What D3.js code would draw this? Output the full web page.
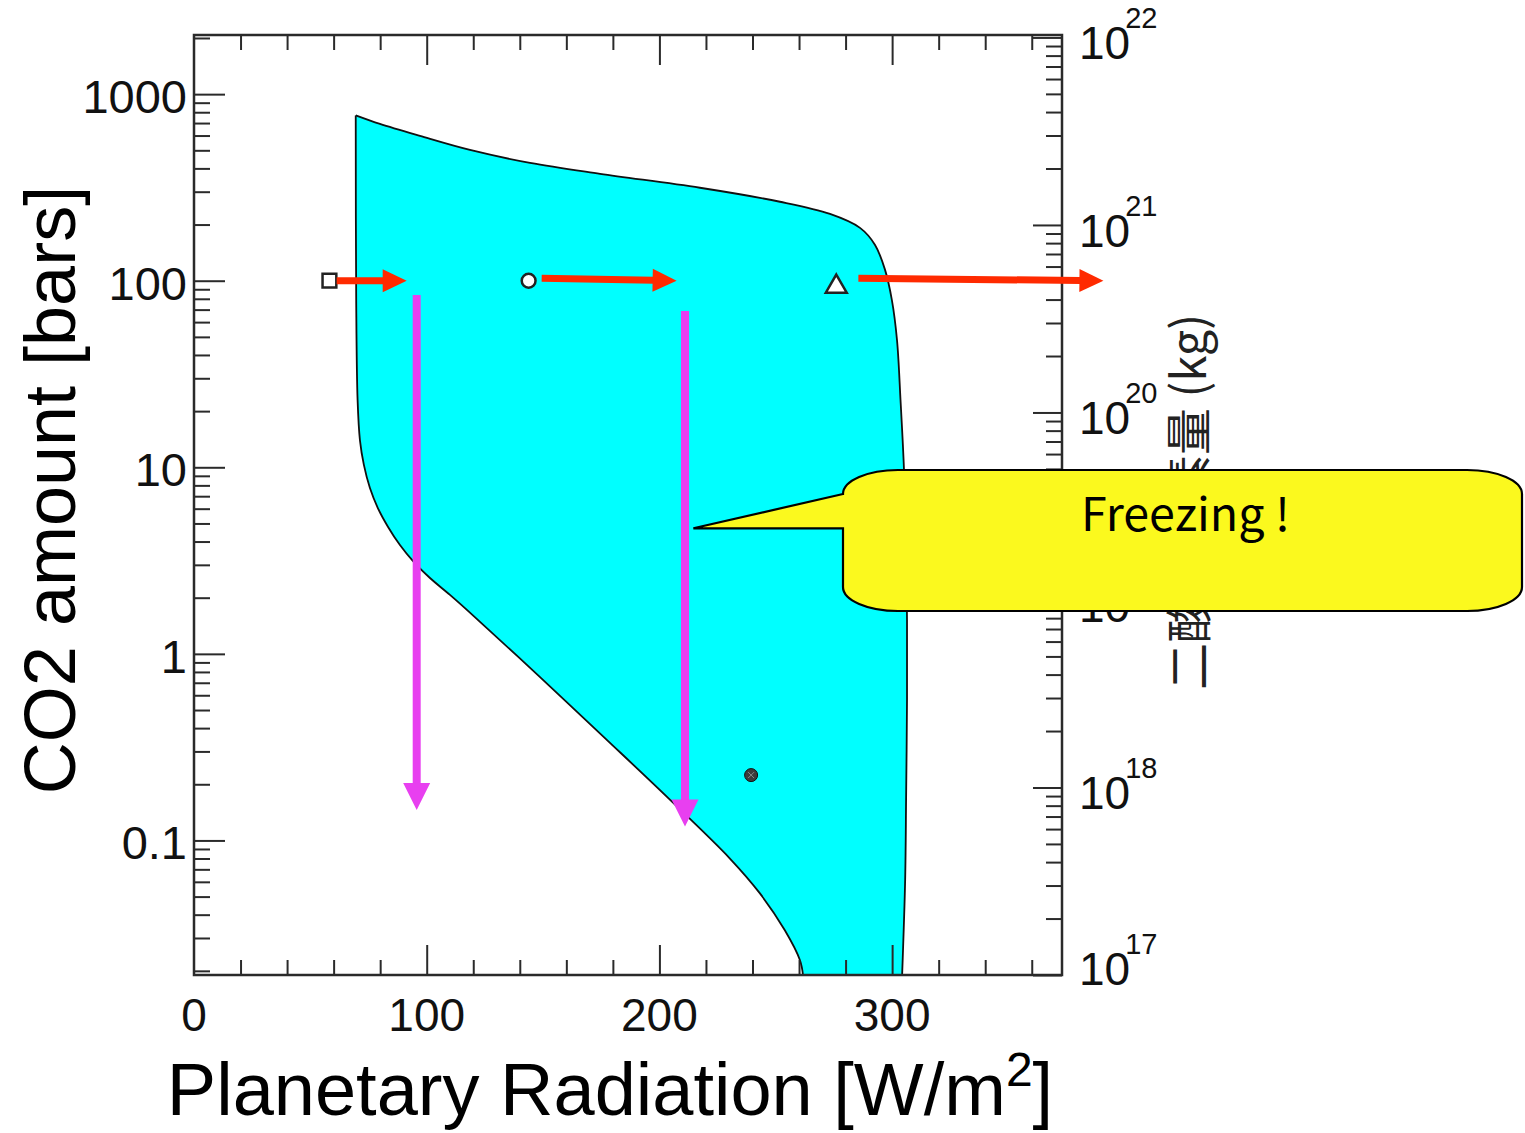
<!DOCTYPE html>
<html><head><meta charset="utf-8">
<script src="https://cdn.jsdelivr.net/npm/d3@7"></script>
<style>body{margin:0;background:#fff}svg{display:block}</style>
</head><body><svg id="c" width="1525" height="1133"></svg>
<script>
// ---------- data ----------
const xTickValues = [0, 100, 200, 300];
const xTickLabels = ["0", "100", "200", "300"];
const yTickValues = [0.1, 1, 10, 100, 1000];
const yTickLabels = ["0.1", "1", "10", "100", "1000"];
const kgExponents = [17, 18, 19, 20, 21, 22];
const xTitle = "Planetary Radiation [W/m";
const xTitleSup = "2";
const xTitleEnd = "]";
const yTitle = "CO2 amount [bars]";
const kgTitle = "二酸化炭素量 (kg)";

// upper / right edge of the cyan region (x in W/m2, y in bars)
const upperEdgeX = [69.5, 79.9, 97.1, 118.6, 144.4, 174.5, 217.4, 251.8, 273.3, 286.2, 292.6, 296.9, 299.9, 302.1, 303.6, 305.1, 306.0, 306.4, 306.4, 306.0, 305.6, 304.3];
const upperEdgeY = [769, 692, 597, 502, 428, 374, 315, 265, 228, 192, 156, 115, 78.7, 48, 23, 9.7, 3.6, 1.52, 0.57, 0.165, 0.0615, 0.019];
// left / lower edge of the cyan region
const lowerEdgeX = [69.5, 69.7, 70.3, 71.3, 73.0, 75.6, 79.0, 83.4, 88.5, 94.5, 101.4, 110.0, 120.8, 148.7, 177.5, 204.6, 230.3, 243.2, 253.9, 260.4, 261.7];
const lowerEdgeY = [769, 78.7, 22.9, 14.0, 10.3, 7.74, 6.05, 4.79, 3.83, 3.10, 2.55, 2.07, 1.57, 0.750, 0.345, 0.165, 0.080, 0.052, 0.033, 0.0228, 0.019];

// planet markers
const markerTypes = ["square", "circle", "triangle", "dot"];
const markerX = [58.2, 143.8, 276, 239.4];
const markerY = [100, 100, 93, 0.224];

// red arrows (horizontal)
const redFromX = [61.3, 149.4, 285.5];
const redFromY = [100, 103, 103];
const redToX = [91.4, 207.4, 390.8];
const redToY = [100, 100, 100];
// magenta arrows (vertical)
const magX = [95.7, 211];
const magFromY = [83.8, 68.8];
const magToY = [0.1455, 0.1186];

const calloutText = "Freezing !";
const calloutTipX = 214.6, calloutTipY = 4.71;

// ---------- layout ----------
const L = 194, R = 1062, T = 35, B = 975;
const svg = d3.select("#c");
const x = d3.scaleLinear().domain([0, 373]).range([L, R]);
const y = d3.scaleLog().domain([0.019, 2075]).range([B, T]);
const yk = d3.scaleLog().domain([1e17, Math.pow(10, 22.013)]).range([B, T]);

const font = "'Liberation Sans', Arial, Helvetica, sans-serif";
const axisColor = "#2a2a2a";

svg.append("defs").append("clipPath").attr("id", "plotclip")
  .append("rect").attr("x", L).attr("y", T).attr("width", R - L).attr("height", B - T);

// ---------- cyan region ----------
const upperPts = upperEdgeX.map((v, i) => [v, upperEdgeY[i]]);
const lowerPts = lowerEdgeX.map((v, i) => [v, lowerEdgeY[i]]);
const lineGen = d3.line().x(d => x(d[0])).y(d => y(d[1])).curve(d3.curveCatmullRom.alpha(0.5));
const upPath = lineGen(upperPts);
const lowRev = lineGen(lowerPts.slice().reverse());
const region = svg.append("g").attr("clip-path", "url(#plotclip)");
region.append("path").attr("d", upPath + "L" + lowRev.slice(1) + "Z")
  .attr("fill", "#00ffff").attr("stroke", "none");
region.append("path").attr("d", upPath).attr("fill", "none").attr("stroke", "#111").attr("stroke-width", 1.8);
region.append("path").attr("d", lineGen(lowerPts)).attr("fill", "none").attr("stroke", "#111").attr("stroke-width", 1.8);

// ---------- axes ----------
function styleAxis(g) {
  g.select(".domain").remove();
  g.selectAll(".tick line").attr("stroke", axisColor).attr("stroke-width", 2);
  g.selectAll(".tick text").remove();
}
const xMinor = d3.range(20, 373, 20).filter(v => v % 100 !== 0);
const xMajor = xTickValues.filter(v => v > 0);
svg.append("g").attr("transform", `translate(0,${B})`).call(d3.axisBottom(x).tickValues(xMinor).tickSize(-15)).call(styleAxis);
svg.append("g").attr("transform", `translate(0,${B})`).call(d3.axisBottom(x).tickValues(xMajor).tickSize(-30)).call(styleAxis);
svg.append("g").attr("transform", `translate(0,${T})`).call(d3.axisTop(x).tickValues(xMinor).tickSize(-15)).call(styleAxis);
svg.append("g").attr("transform", `translate(0,${T})`).call(d3.axisTop(x).tickValues(xMajor).tickSize(-30)).call(styleAxis);

const yMinor = [];
for (let d = -2; d <= 3; d++) for (let m = 2; m <= 9; m++) {
  const v = m * Math.pow(10, d);
  if (v > 0.019 && v < 2075) yMinor.push(v);
}
svg.append("g").attr("transform", `translate(${L},0)`).call(d3.axisLeft(y).tickValues(yMinor).tickSize(-16)).call(styleAxis);
svg.append("g").attr("transform", `translate(${L},0)`).call(d3.axisLeft(y).tickValues(yTickValues).tickSize(-31)).call(styleAxis);

const kgMajor = kgExponents.map(e => Math.pow(10, e));
const kgMinor = [];
for (let e = 17; e <= 21; e++) for (let m = 2; m <= 9; m++) kgMinor.push(m * Math.pow(10, e));
svg.append("g").attr("transform", `translate(${R},0)`).call(d3.axisRight(yk).tickValues(kgMinor).tickSize(-16)).call(styleAxis);
svg.append("g").attr("transform", `translate(${R},0)`).call(d3.axisRight(yk).tickValues(kgMajor).tickSize(-29)).call(styleAxis);

// frame
svg.append("rect").attr("x", L).attr("y", T).attr("width", R - L).attr("height", B - T)
  .attr("fill", "none").attr("stroke", axisColor).attr("stroke-width", 2.5);

// tick labels
svg.append("g").selectAll("text").data(xTickValues).join("text")
  .attr("x", d => x(d)).attr("y", 1031).attr("text-anchor", "middle")
  .attr("font-family", font).attr("font-size", 46).attr("fill", "#111")
  .text((d, i) => xTickLabels[i]);
svg.append("g").selectAll("text").data(yTickValues).join("text")
  .attr("x", 187).attr("y", d => y(d) + 19).attr("text-anchor", "end")
  .attr("font-family", font).attr("font-size", 47).attr("fill", "#111")
  .text((d, i) => yTickLabels[i]);
const kgLab = svg.append("g").selectAll("text").data(kgExponents).join("text")
  .attr("x", 1079).attr("y", d => Math.min(yk(Math.pow(10, d)) + 22, 985))
  .attr("font-family", font).attr("font-size", 46).attr("fill", "#111");
kgLab.append("tspan").text("10");
kgLab.append("tspan").attr("font-size", 29).attr("dx", -5).attr("dy", -31).text(d => d);

// axis titles
svg.append("text").attr("transform", "translate(75,490) rotate(-90)")
  .attr("text-anchor", "middle").attr("font-family", font).attr("font-size", 72).attr("fill", "#000")
  .text(yTitle);
const xt = svg.append("text").attr("x", 610).attr("y", 1115).attr("text-anchor", "middle")
  .attr("font-family", font).attr("font-size", 74).attr("fill", "#000");
xt.append("tspan").text(xTitle);
xt.append("tspan").attr("font-size", 48).attr("dy", -29).text(xTitleSup);
xt.append("tspan").attr("dy", 29).text(xTitleEnd);
svg.append("text").attr("transform", "translate(1206,690) rotate(-90)")
  .attr("text-anchor", "start").attr("font-family", "'Noto Sans CJK JP', sans-serif").attr("font-size", 47).attr("fill", "#222")
  .text(kgTitle);

// ---------- markers ----------
const mg = svg.append("g");
markerTypes.forEach((t, i) => {
  const px = x(markerX[i]), py = y(markerY[i]);
  if (t === "dot") {
    mg.append("circle").attr("cx", px).attr("cy", py).attr("r", 6.5).attr("fill", "#3c3c3c").attr("stroke", "#111").attr("stroke-width", 1);
    mg.append("path").attr("d", `M${px-3},${py-3}L${px+3},${py+3}M${px+3},${py-3}L${px-3},${py+3}`).attr("stroke", "#888").attr("stroke-width", 1);
  } else {
    const sym = t === "square" ? d3.symbolSquare : t === "circle" ? d3.symbolCircle : d3.symbolTriangle;
    const size = t === "square" ? 190 : t === "circle" ? 150 : 190;
    mg.append("path").attr("d", d3.symbol().type(sym).size(size)()).attr("transform", `translate(${px},${py})`)
      .attr("fill", "#fff").attr("stroke", "#222").attr("stroke-width", 2.5);
  }
});

// ---------- arrows ----------
function arrow(g, x1, y1, x2, y2, color, shaftW, headL, headW) {
  const dx = x2 - x1, dy = y2 - y1, len = Math.hypot(dx, dy);
  const ux = dx / len, uy = dy / len, nx = -uy, ny = ux;
  const bx = x2 - ux * headL, by = y2 - uy * headL;
  g.append("line").attr("x1", x1).attr("y1", y1).attr("x2", bx + ux).attr("y2", by + uy)
    .attr("stroke", color).attr("stroke-width", shaftW);
  g.append("path").attr("d", `M${x2},${y2}L${bx + nx * headW / 2},${by + ny * headW / 2}L${bx - nx * headW / 2},${by - ny * headW / 2}Z`)
    .attr("fill", color);
}
const ag = svg.append("g");
redFromX.forEach((v, i) => arrow(ag, x(v), y(redFromY[i]), x(redToX[i]), y(redToY[i]), "#ff2a00", 7, 24, 23));
magX.forEach((v, i) => arrow(ag, x(v), y(magFromY[i]), x(v), y(magToY[i]), "#e83ff0", 8, 27, 27));

// ---------- callout ----------
const cx0 = 843, cx1 = 1522, cy0 = 470, cy1 = 611, rx = 55, ry = 24;
const tipX = x(calloutTipX), tipY = y(calloutTipY);
const cp = `M${cx0},${cy0 + ry} L${tipX},${tipY} L${cx0},${tipY} L${cx0},${cy1 - ry}
 A${rx},${ry} 0 0 0 ${cx0 + rx},${cy1} L${cx1 - rx},${cy1} A${rx},${ry} 0 0 0 ${cx1},${cy1 - ry}
 L${cx1},${cy0 + ry} A${rx},${ry} 0 0 0 ${cx1 - rx},${cy0} L${cx0 + rx},${cy0} A${rx},${ry} 0 0 0 ${cx0},${cy0 + ry} Z`;
svg.append("path").attr("d", cp).attr("fill", "#fbf91e").attr("stroke", "#000").attr("stroke-width", 2.2).attr("stroke-linejoin", "miter");
svg.append("text").attr("x", 1081).attr("y", 531)
  .attr("font-family", "'Noto Sans CJK JP', 'Noto Sans', sans-serif").attr("font-size", 46)
  .attr("textLength", 209).attr("lengthAdjust", "spacingAndGlyphs").attr("fill", "#000")
  .text(calloutText);
</script></body></html>
